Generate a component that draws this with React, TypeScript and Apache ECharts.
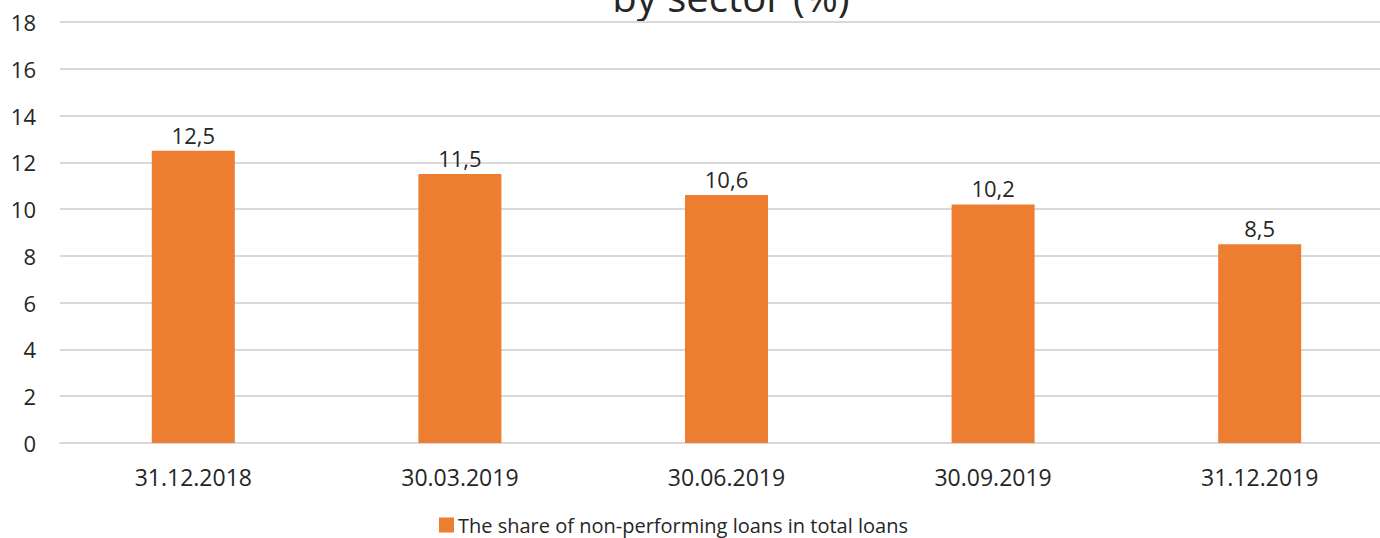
import React, { useEffect, useRef } from "react";
import * as echarts from "echarts";

const categories = ["31.12.2018", "30.03.2019", "30.06.2019", "30.09.2019", "31.12.2019"];
const values = [12.5, 11.5, 10.6, 10.2, 8.5];
const seriesName = "The share of non-performing loans in total loans";
const titleText = "by sector (%)";

const FONT = "'Open Sans', sans-serif";

export default function App() {
  const ref = useRef<HTMLDivElement>(null);
  useEffect(() => {
    if (!ref.current) return;
    const chart = echarts.init(ref.current, undefined, { renderer: "svg" });
    chart.setOption({
      animation: false,
      textStyle: { fontFamily: FONT },
      graphic: [
        {
          type: "text",
          x: 731,
          y: 16,
          style: {
            text: titleText,
            font: `40px ${FONT}`,
            fill: "#262626",
            textAlign: "center",
            textVerticalAlign: "bottom",
          },
        },
      ],
      legend: {
        left: 439,
        top: 515,
        padding: 0,
        itemWidth: 15,
        itemHeight: 15,
        itemGap: 10,
        icon: "rect",
        textStyle: { fontFamily: FONT, fontSize: 20, color: "#262626", padding: [0, 0, 0, -1] },
        data: [seriesName],
      },
      grid: { left: 60, right: 2, top: 22, bottom: 95 },
      xAxis: {
        type: "category",
        data: categories,
        boundaryGap: true,
        axisLine: { lineStyle: { color: "#d9d9d9", width: 2 } },
        axisTick: { show: false },
        axisLabel: { fontFamily: FONT, fontSize: 23, color: "#262626", margin: 22 },
      },
      yAxis: {
        type: "value",
        min: 0,
        max: 18,
        interval: 2,
        axisLine: { show: false },
        axisTick: { show: false },
        splitLine: { lineStyle: { color: "#d9d9d9", width: 2 } },
        axisLabel: { fontFamily: FONT, fontSize: 22, color: "#262626", margin: 24 },
      },
      series: [
        {
          name: seriesName,
          type: "bar",
          data: values,
          barWidth: 83,
          itemStyle: { color: "#ED7D31" },
          label: {
            show: true,
            position: "top",
            distance: 5,
            fontFamily: FONT,
            fontSize: 22,
            color: "#262626",
            formatter: (p: any) => String(p.value).replace(".", ","),
          },
        },
      ],
    });
    return () => chart.dispose();
  }, []);
  return (
    <div style={{ position: "absolute", left: 0, top: 0, width: 1380, height: 538, overflow: "hidden", background: "#fff" }}>
      <div ref={ref} style={{ width: 1395, height: 538 }} />
    </div>
  );
}
